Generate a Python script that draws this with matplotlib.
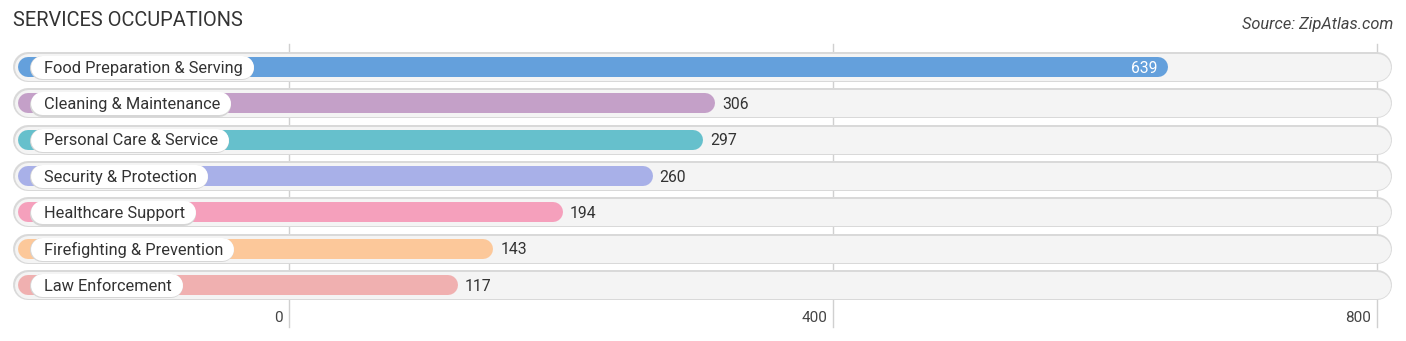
import matplotlib
matplotlib.use("Agg")
import matplotlib.pyplot as plt

categories = [
    "Food Preparation & Serving",
    "Cleaning & Maintenance",
    "Personal Care & Service",
    "Security & Protection",
    "Healthcare Support",
    "Firefighting & Prevention",
    "Law Enforcement",
]
values = [639, 306, 297, 260, 194, 143, 117]
colors = ["#64a0dc", "#c4a0c8", "#66c0cc", "#a8b0e8", "#f5a0bc", "#fcc89a", "#f0b0b0"]
xticks = [0, 400, 800]

W, H, DPI = 1406, 341, 100
x0_px, px_per_unit = 289, 1.36      # pixel of value 0, pixels per unit
row0_px, row_step = 67, 36.33       # centre of first row, spacing between rows
bar_start = -192                    # left end of the track / bar (data units)
track_end = 800

plt.rcParams["font.family"] = ["Roboto", "DejaVu Sans"]

fig = plt.figure(figsize=(W / DPI, H / DPI), dpi=DPI)
ax = fig.add_axes([0, 0, 1, 1])
ax.set_xlim(-x0_px / px_per_unit, (W - x0_px) / px_per_unit)
ax.set_ylim((H - row0_px) / row_step, -row0_px / row_step)
ax.axis("off")

pt = 72 / DPI  # points per pixel
px = 1 / px_per_unit  # one pixel in x data units
dy = 1.2 / row_step   # nudge text down slightly so it sits centred in the bar

# vertical grid lines
for t in xticks:
    ax.plot([t, t], [-0.62, 7.15], color="#d0d0d0", lw=1, zorder=1)
    ax.text(t - 6 * px, 6.9, f"{t}", ha="right", va="center",
            fontsize=11, color="#444444")

labels = []
for i, (cat, val, col) in enumerate(zip(categories, values, colors)):
    # background track with a soft border
    ax.plot([bar_start, track_end], [i, i], color="#d9d9d9", lw=30 * pt,
            solid_capstyle="round", zorder=2)
    ax.plot([bar_start, track_end], [i, i], color="#f4f4f4", lw=27 * pt,
            solid_capstyle="round", zorder=2)
    # value bar
    ax.plot([bar_start, val], [i, i], color=col, lw=20 * pt,
            solid_capstyle="round", zorder=3)
    labels.append(ax.text(bar_start + 16 * px, i + dy, cat, ha="left", va="center",
                          fontsize=11.8, color="#333333", zorder=6))
    if i == 0:
        ax.text(val - 1 * px, i + dy, f"{val}", ha="right", va="center",
                fontsize=11.3, color="white", zorder=5)
    else:
        ax.text(val + 17 * px, i + dy, f"{val}", ha="left", va="center",
                fontsize=11.3, color="#333333", zorder=5)

# white pills behind the category labels, sized from the rendered text
fig.canvas.draw()
renderer = fig.canvas.get_renderer()
inv = ax.transData.inverted()
for i, t in enumerate(labels):
    bb = t.get_window_extent(renderer)
    left = inv.transform((bb.x0, 0))[0]
    right = inv.transform((bb.x1, 0))[0]
    ax.plot([left - 1.5 * px, right - 1 * px], [i + 0.04, i + 0.04],
            color="#d6d6d6", lw=24 * pt, solid_capstyle="round", zorder=4)
    ax.plot([left - 1.5 * px, right - 1 * px], [i, i],
            color="white", lw=23 * pt, solid_capstyle="round", zorder=5)

fig.text(13 / W, 1 - 21 / H, "SERVICES OCCUPATIONS", ha="left", va="center",
         fontsize=14.4, color="#333333")
fig.text(1393 / W, 1 - 25 / H, "Source: ZipAtlas.com", ha="right", va="center",
         fontsize=11.8, style="italic", color="#444444")

fig.savefig("out.png", dpi=DPI)
